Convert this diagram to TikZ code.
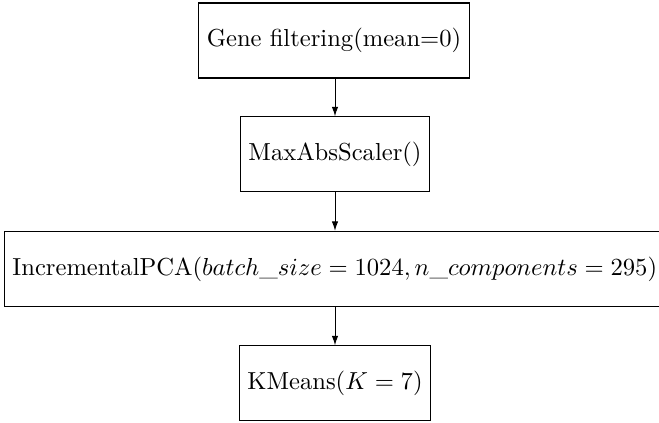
\documentclass[tikz,border=0pt]{standalone}
\usetikzlibrary{arrows.meta}
\begin{document}
\begin{tikzpicture}[x=0.4065pt,y=-0.4065pt,
  stage/.style={draw,line width=0.45pt,minimum height=30.5pt,inner sep=3.33pt},
  flow/.style={-{Latex[length=3.8pt,width=2.6pt]},line width=0.4pt}]
\useasboundingbox (0,0) rectangle (659,423);
\clip (0,0) rectangle (659,423);
\node[stage] (gf) at (334,40.5) {Gene filtering(mean=0)};
\node[stage] (mas) at (335,154.4) {MaxAbsScaler()};
\node[stage] (pca) at (334.8,268.9) {IncrementalPCA($batch\_size = 1024, n\_components = 295$)};
\node[stage] (km) at (335,383.4) {KMeans($K = 7$)};
\draw[flow] (gf.south -| mas.north) -- (mas.north);
\draw[flow] (mas.south) -- (mas.south |- pca.north);
\draw[flow] (km.north |- pca.south) -- (km.north);
\end{tikzpicture}
\end{document}
